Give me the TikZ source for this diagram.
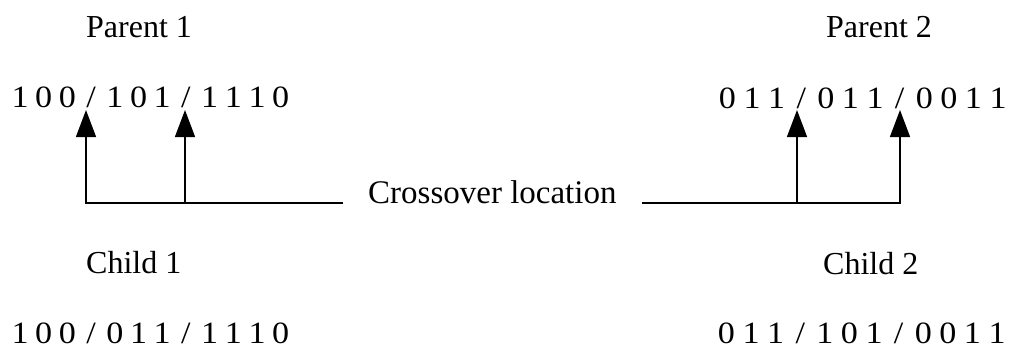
\documentclass[tikz,border=0pt]{standalone}
\usepackage{fontspec}
\setmainfont{Liberation Serif}
\newfontfamily\bitsfont[FakeStretch=1.1]{Liberation Serif}
\usetikzlibrary{arrows.meta}
\newlength\charpitch
\def\xspcchars#1{\ifx#1\relax\else\makebox[\charpitch][c]{#1}\expandafter\xspcchars\fi}
\newcommand\spacedbits[2]{\setlength\charpitch{#1}\xspcchars#2\relax}
\begin{document}
\begin{tikzpicture}[x=1pt,y=-1pt,
  lbl/.style={font=\fontsize{32}{38}\selectfont, inner sep=0pt, anchor=base west},
  bits/.style={font=\bitsfont\fontsize{31}{36}\selectfont, inner sep=0pt, anchor=base west},
  conn/.style={line width=1.4pt},
  tiphead/.style={{Triangle[length=27pt,width=20pt]}-}]
\useasboundingbox (0,0) rectangle (1010,351);

\node[lbl] (p1l) at (86,37) {Parent 1};
\node[lbl] (p2l) at (826,37) {Parent 2};
\node[lbl] (c1l) at (86,273) {Child 1};
\node[lbl] (c2l) at (823,274) {Child 2};

\node[bits] (p1) at (8,107) {\spacedbits{23.7pt}{100/101/1110}};
\node[bits] (p2) at (715,108) {\spacedbits{24.6pt}{011/011/0011}};
\node[bits] (c1) at (8,343) {\spacedbits{23.7pt}{100/011/1110}};
\node[bits] (c2) at (714,343) {\spacedbits{24.6pt}{011/101/0011}};

\node[font=\fontsize{33}{40}\selectfont, inner xsep=25pt, inner ysep=0pt, anchor=base west] (cross) at (343,203) {Crossover location};

\coordinate (t1) at (86,110);
\coordinate (t2) at (185,110);
\coordinate (t3) at (797,110);
\coordinate (t4) at (900,110);
\coordinate (f2) at (185,203);
\coordinate (f3) at (797,203);

\draw[conn,tiphead] (t1) |- (cross.base west);
\draw[conn,tiphead] (t2) -- (f2);
\draw[conn,tiphead] (t4) |- (cross.base east);
\draw[conn,tiphead] (t3) -- (f3);
\end{tikzpicture}
\end{document}
